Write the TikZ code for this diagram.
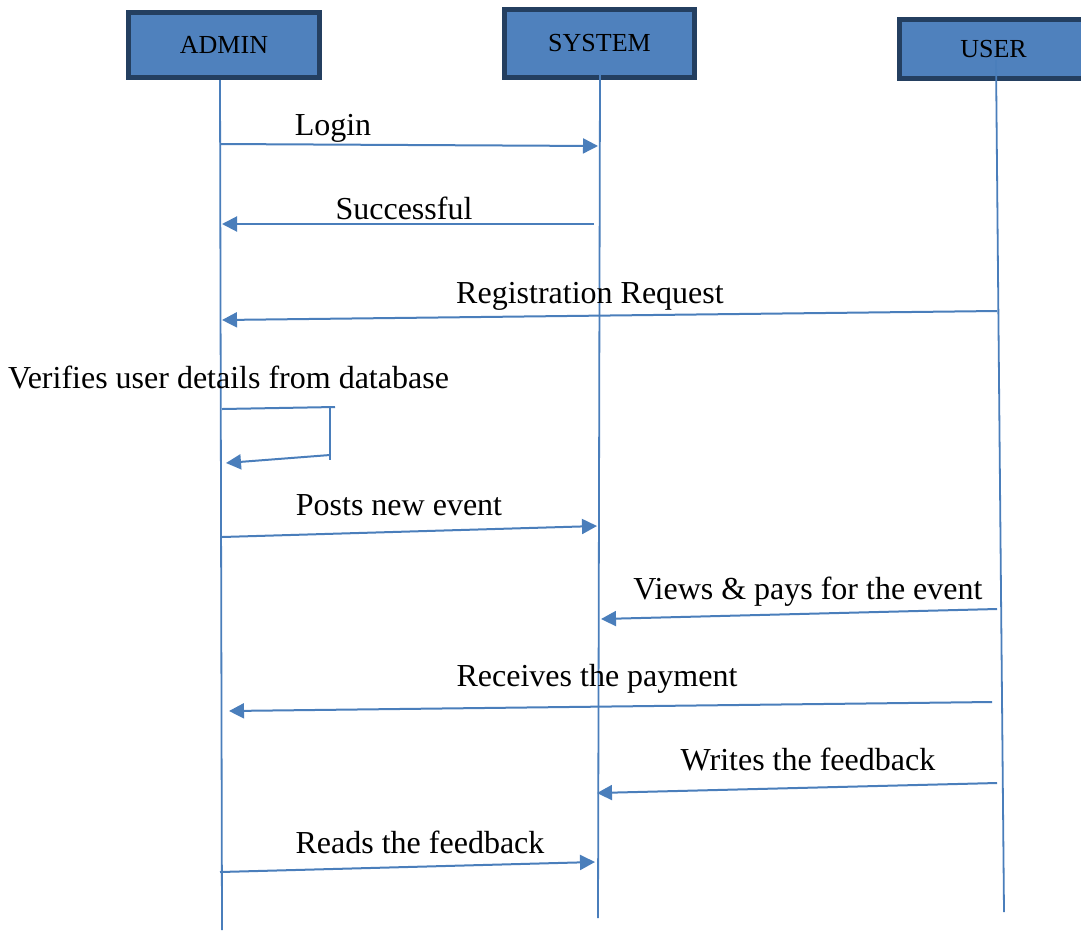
\documentclass[tikz,border=0pt]{standalone}
\usepackage{fontspec}
\setmainfont{Liberation Serif}
\usetikzlibrary{arrows.meta}
\definecolor{boxfill}{HTML}{4F81BD}
\definecolor{boxedge}{HTML}{243F60}
\definecolor{lineblue}{HTML}{4A7EBB}
\tikzset{
  actor/.style={draw=boxedge, fill=boxfill, line width=5pt, inner sep=0pt,
    font=\fontsize{26}{30}\selectfont, text=black},
  life/.style={draw=lineblue, line width=1.8pt},
  msg/.style={draw=lineblue, line width=2pt, -{Triangle[length=15pt,width=15pt]}},
  plain/.style={draw=lineblue, line width=2pt},
  lbl/.style={font=\fontsize{32}{38}\selectfont, anchor=base, inner sep=0pt}
}
\begin{document}
\begin{tikzpicture}[x=1pt,y=-1pt]
\clip (0,0) rectangle (1081,930);
\fill[white] (0,0) rectangle (1081,930);
% actors
\node[actor, minimum width=191pt, minimum height=65pt] (admin) at (224,45) {ADMIN};
\node[actor, minimum width=190pt, minimum height=68pt] (system) at (599.5,43.5) {SYSTEM};
\node[actor, minimum width=188pt, minimum height=59pt] (user) at (993.5,49) {USER};
% lifeline coordinates
\coordinate (aT) at (220,80);  \coordinate (aB) at (222,930);
\coordinate (sT) at (600,75);  \coordinate (sB) at (598,918);
\coordinate (uT) at (996,60);  \coordinate (uB) at (1004,912);
\draw[life] (aT) -- (aB);
\draw[life] (sT) -- (sB);
\draw[life] (uT) -- (uB);
% messages
\coordinate (m1a) at (220,144); \coordinate (m1b) at (598,146);
\draw[msg] (m1a) -- (m1b);
\node[lbl] (l1) at (333,135) {Login};
\coordinate (m2a) at (594,224); \coordinate (m2b) at (222,224);
\draw[msg] (m2a) -- (m2b);
\node[lbl] (l2) at (404,219) {Successful};
\coordinate (m3a) at (997,311); \coordinate (m3b) at (222,320);
\draw[msg] (m3a) -- (m3b);
\node[lbl] (l3) at (590,303) {Registration Request};
% self message
\node[lbl, anchor=base west] (l4) at (8,388) {Verifies user details from database};
\coordinate (s1) at (222,409); \coordinate (s2) at (335,407);
\coordinate (s3) at (330,407); \coordinate (s4) at (330,460);
\coordinate (s5) at (330,455); \coordinate (s6) at (226,463);
\draw[plain] (s1) -- (s2);
\draw[plain] (s3) -- (s4);
\draw[msg] (s5) -- (s6);
\coordinate (m5a) at (222,537); \coordinate (m5b) at (597,526);
\draw[msg] (m5a) -- (m5b);
\node[lbl] (l5) at (399,515) {Posts new event};
\coordinate (m6a) at (997,609); \coordinate (m6b) at (601,619);
\draw[msg] (m6a) -- (m6b);
\node[lbl] (l6) at (808,599) {Views \& pays for the event};
\coordinate (m7a) at (992,702); \coordinate (m7b) at (229,711);
\draw[msg] (m7a) -- (m7b);
\node[lbl] (l7) at (597,686) {Receives the payment};
\coordinate (m8a) at (997,783); \coordinate (m8b) at (597,793);
\draw[msg] (m8a) -- (m8b);
\node[lbl] (l8) at (808,770) {Writes the feedback};
\coordinate (m9a) at (220,872); \coordinate (m9b) at (595,862);
\draw[msg] (m9a) -- (m9b);
\node[lbl] (l9) at (420,853) {Reads the feedback};
\end{tikzpicture}
\end{document}
